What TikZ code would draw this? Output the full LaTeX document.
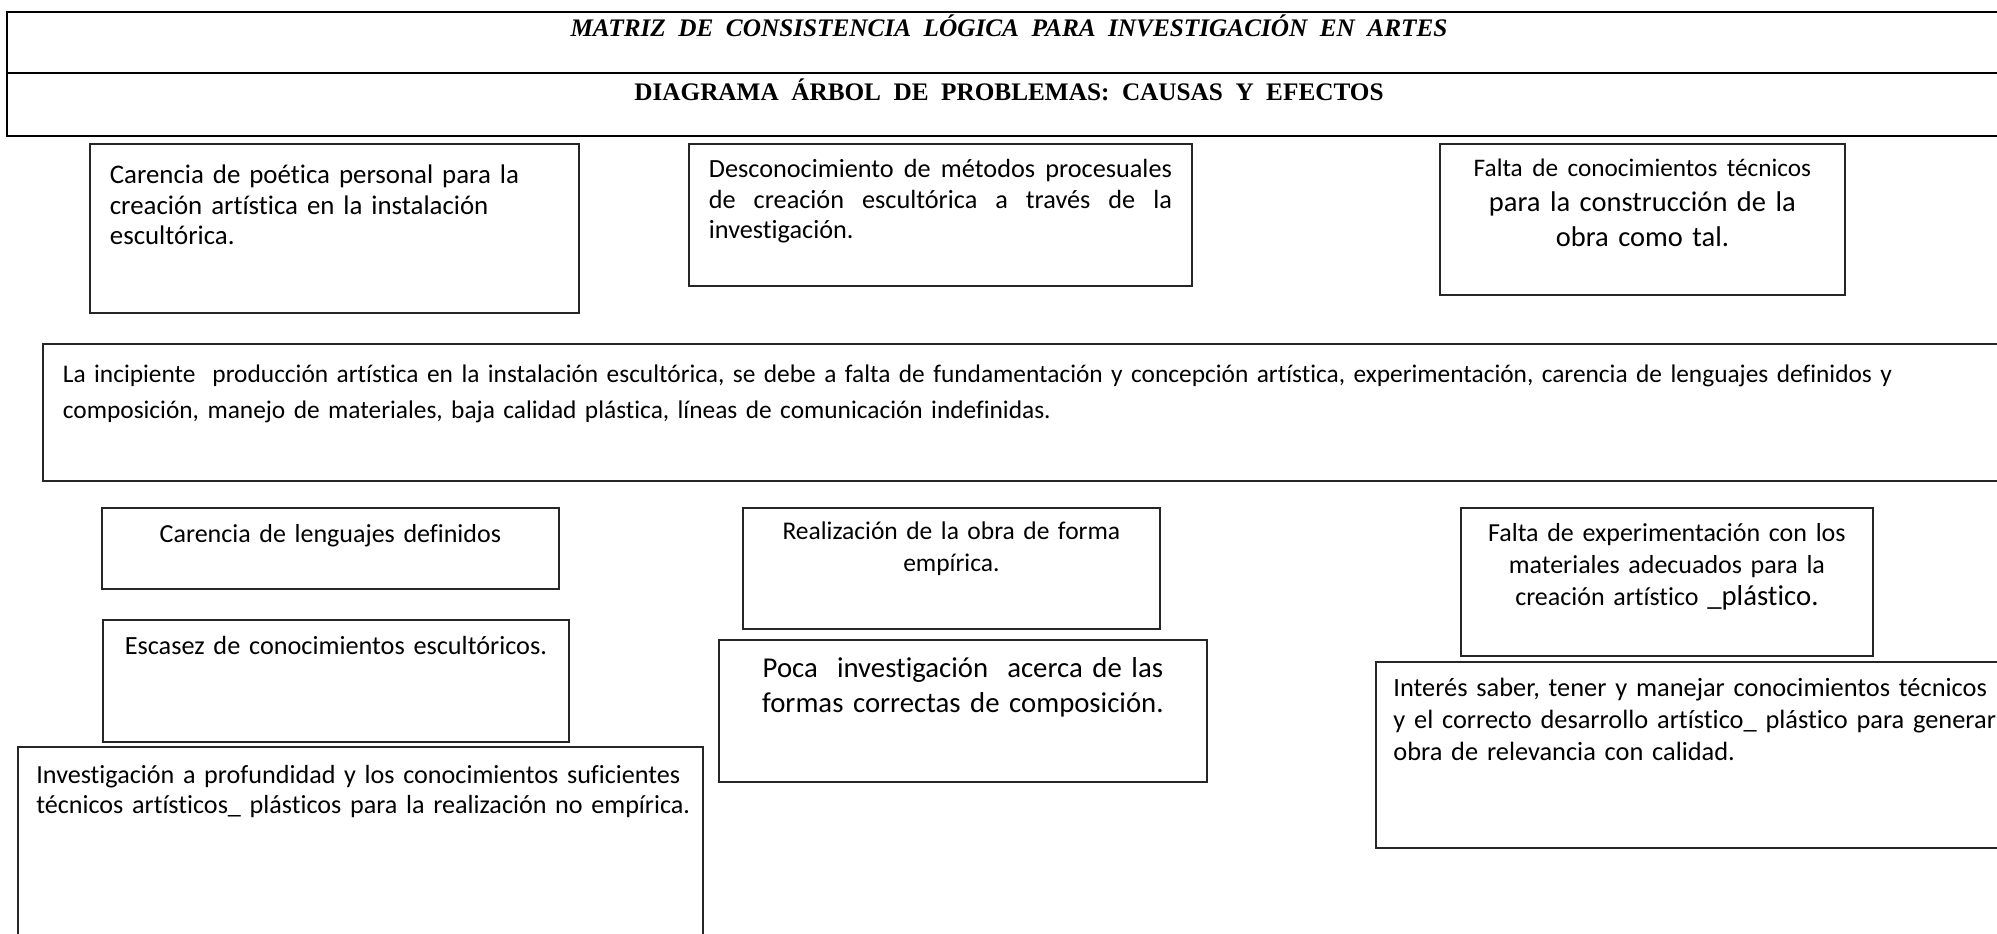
\documentclass[tikz,border=0pt]{standalone}
\usepackage{fontspec}
\setmainfont{Carlito}[Ligatures=NoCommon]
\newfontfamily\hdrfont{Liberation Serif}
\newcommand\hdrspace{\spaceskip=5pt\relax}
\usetikzlibrary{positioning}
\hyphenpenalty=10000

\begin{document}
\begin{tikzpicture}[x=0.4pt, y=-0.4pt]
    % Setup the styles for the boxes
        \tikzset{cbox/.style={rectangle, draw=black!85,
                              line width=0.7pt,
                              anchor=north west,
                              inner xsep=2pt, inner ysep=0pt,
                              align=center,
                              font=\fontsize{10.2}{12.8}\selectfont},
                 lbox/.style={cbox, inner xsep=8pt, align=left},
                 hdrrow/.style={rectangle, draw=black,
                                line width=0.8pt,
                                anchor=north west,
                                inner sep=0pt,
                                text width=801.6pt,
                                align=center,
                                font=\hdrfont\bfseries\fontsize{10.1}{12}\selectfont}}
        \useasboundingbox (0,0) rectangle (1997,933);
        \clip (0,0) rectangle (1997,933);
        % Header of the matrix
        \node[hdrrow, text height=9.6pt, text depth=14.8pt] at (6,11) (titulo)
            {\hdrspace\itshape MATRIZ DE CONSISTENCIA LÓGICA PARA INVESTIGACIÓN EN ARTES};
        \node[hdrrow, text height=11pt, text depth=14.2pt] at (6,72) (subtitulo)
            {\hdrspace DIAGRAMA ÁRBOL DE PROBLEMAS: CAUSAS Y EFECTOS};
        % Causes
        \node[lbox, text width=179.6pt, text height=16pt, text depth=51.6pt,
              font=\fontsize{10.75}{12.2}\selectfont] at (89,143) (causa1)
            {Carencia de poética personal para la\\ creación artística en la instalación\\ escultórica.};
        \node[lbox, align=justify, text width=185.2pt, text height=13.6pt, text depth=43.2pt,
              font=\fontsize{10.5}{12.2}\selectfont] at (688,143) (causa2)
            {Desconocimiento de métodos procesuales\linebreak de creación escultórica a través de la\linebreak investigación.};
        \node[cbox, text width=158pt, text height=13.2pt, text depth=47.2pt,
              font=\fontsize{11.4}{14}\selectfont] at (1439,143) (causa3)
            {{\fontsize{10.1}{14}\selectfont Falta de conocimientos técnicos}\\ para la construcción de la\\ obra como tal.};
        % Central problem
        \node[lbox, text width=771.2pt, text height=15.6pt, text depth=39.2pt,
              font=\fontsize{10.15}{14.4}\selectfont] at (42,343) (problema)
            {La incipiente~ producción artística en la instalación escultórica, se debe a falta de fundamentación y concepción artística, experimentación, carencia de lenguajes definidos y\\ composición, manejo de materiales, baja calidad plástica, líneas de comunicación indefinidas.};
        % Effects
        \node[cbox, text width=178.8pt, text height=14pt, text depth=18.4pt,
              font=\fontsize{10.4}{12.8}\selectfont] at (101,507) (efecto1)
            {Carencia de lenguajes definidos};
        \node[cbox, text width=182.4pt, text height=14pt, text depth=34.8pt,
              font=\fontsize{10.5}{12.8}\selectfont] at (102,619) (efecto2)
            {Escasez de conocimientos escultóricos.};
        \node[lbox, inner xsep=7.4pt, text width=259.2pt, text height=14.8pt, text depth=70.8pt,
              font=\fontsize{10.45}{12}\selectfont] at (17,746) (efecto3)
            {\mbox{Investigación a profundidad y los conocimientos suficientes}\\ \mbox{técnicos artísticos\_ plásticos para la realización no empírica.}};
        \node[cbox, text width=162.8pt, text height=12.8pt, text depth=35.6pt] at (742,507) (efecto4)
            {Realización de la obra de forma\\ empírica.};
        \node[cbox, text width=191.2pt, text height=15.2pt, text depth=41.6pt,
              font=\fontsize{11.5}{14}\selectfont] at (718,639) (efecto5)
            {Poca~ investigación~ acerca de las\\ formas correctas de composición.};
        \node[cbox, text width=160.8pt, text height=13.6pt, text depth=45.6pt,
              font=\fontsize{10.4}{12.8}\selectfont] at (1460,507) (efecto6)
            {Falta de experimentación con los\\ materiales adecuados para la\\ creación artístico {\fontsize{11.5}{14}\selectfont\_plástico.}};
        \node[lbox, inner xsep=7pt, text width=262pt, text height=14pt, text depth=60.4pt,
              font=\fontsize{10.55}{12.8}\selectfont] at (1375,661) (efecto7)
            {Interés saber, tener y manejar conocimientos técnicos\\ y el correcto desarrollo artístico\_ plástico para generar\\ obra de relevancia con calidad.};
\end{tikzpicture}
\end{document}
